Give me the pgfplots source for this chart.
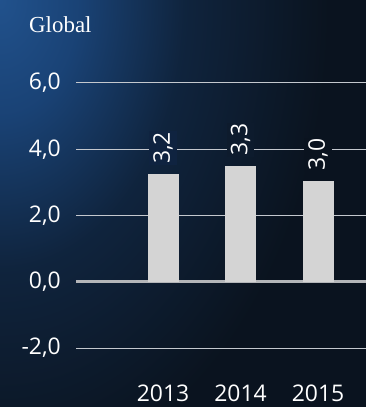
\documentclass[border=0pt]{standalone}
\usepackage{pgfplots}
\pgfplotsset{compat=1.18}
\usepackage{fontspec}
\setmainfont{Open Sans}
\newfontfamily\titlefont{Liberation Serif}
\definecolor{barcol}{HTML}{D4D4D4}
\definecolor{gridcol}{HTML}{C4C8CE}
\definecolor{zerocol}{HTML}{B4B6B9}
\definecolor{fillA}{HTML}{0F2340}
\definecolor{fillB}{HTML}{0D1B2D}
\definecolor{fillC}{HTML}{0A131F}
\definecolor{bgout}{HTML}{0A131F}
\pgfdeclareradialshading{bgrad}{\pgfpoint{0bp}{0bp}}{rgb(0bp)=(0.13,0.32,0.55); rgb(6bp)=(0.10,0.26,0.46); rgb(14bp)=(0.06,0.14,0.24); rgb(25bp)=(0.04,0.075,0.12); rgb(50bp)=(0.04,0.075,0.12)}
\tikzset{labnode/.style={rotate=90, anchor=west, text=white,
    font=\fontsize{23}{27}\selectfont, inner xsep=1bp, inner ysep=4bp, xshift=9bp}}
\begin{document}
\begin{tikzpicture}
\path[use as bounding box] (0,0) rectangle (366bp,407bp);
\begin{scope}
\clip (0,0) rectangle (366bp,407bp);
\fill[bgout] (0,0) rectangle (366bp,407bp);
\shade[shading=bgrad] (0,407bp) ellipse (330bp and 480bp);
\end{scope}
\node[anchor=west, text=white, inner sep=0pt, font=\titlefont\fontsize{23}{27}\selectfont] at (29bp,382bp) {Global};
\begin{axis}[
  at={(76bp,59bp)}, anchor=south west,
  scale only axis, width=290bp, height=265bp,
  xmin=-1.123, xmax=2.619, ymin=-2, ymax=6,
  ytick={-2,2,4,6}, extra y ticks={0},
  extra y tick style={grid style={draw=zerocol, line width=2.5bp}},
  xtick={0,1,2}, xticklabels={2013,2014,2015},
  axis line style={draw=none}, tick style={draw=none},
  ymajorgrids, grid style={draw=gridcol, line width=1bp},
  /pgf/number format/.cd, use comma, fixed, fixed zerofill, precision=1, assume math mode=true,
  /pgfplots/.cd,
  ticklabel style={text=white, font=\fontsize{23}{27}\selectfont, inner sep=0pt},
  yticklabel style={xshift=-15bp},
  xticklabel style={anchor=north, yshift=-37bp},
  clip=false,
]
\addplot[ybar, bar width=31bp, bar shift=0pt, fill=barcol, draw=none,
  nodes near coords, point meta=explicit symbolic,
  nodes near coords style={labnode, fill=fillA}]
  table[meta=lab] {
x y lab
0 3.25 3,2
};
\addplot[ybar, bar width=31bp, bar shift=0pt, fill=barcol, draw=none,
  nodes near coords, point meta=explicit symbolic,
  nodes near coords style={labnode, fill=fillB}]
  table[meta=lab] {
x y lab
1 3.50 3,3
};
\addplot[ybar, bar width=31bp, bar shift=0pt, fill=barcol, draw=none,
  nodes near coords, point meta=explicit symbolic,
  nodes near coords style={labnode, fill=fillC}]
  table[meta=lab] {
x y lab
2 3.05 3,0
};
\end{axis}
\end{tikzpicture}
\end{document}
